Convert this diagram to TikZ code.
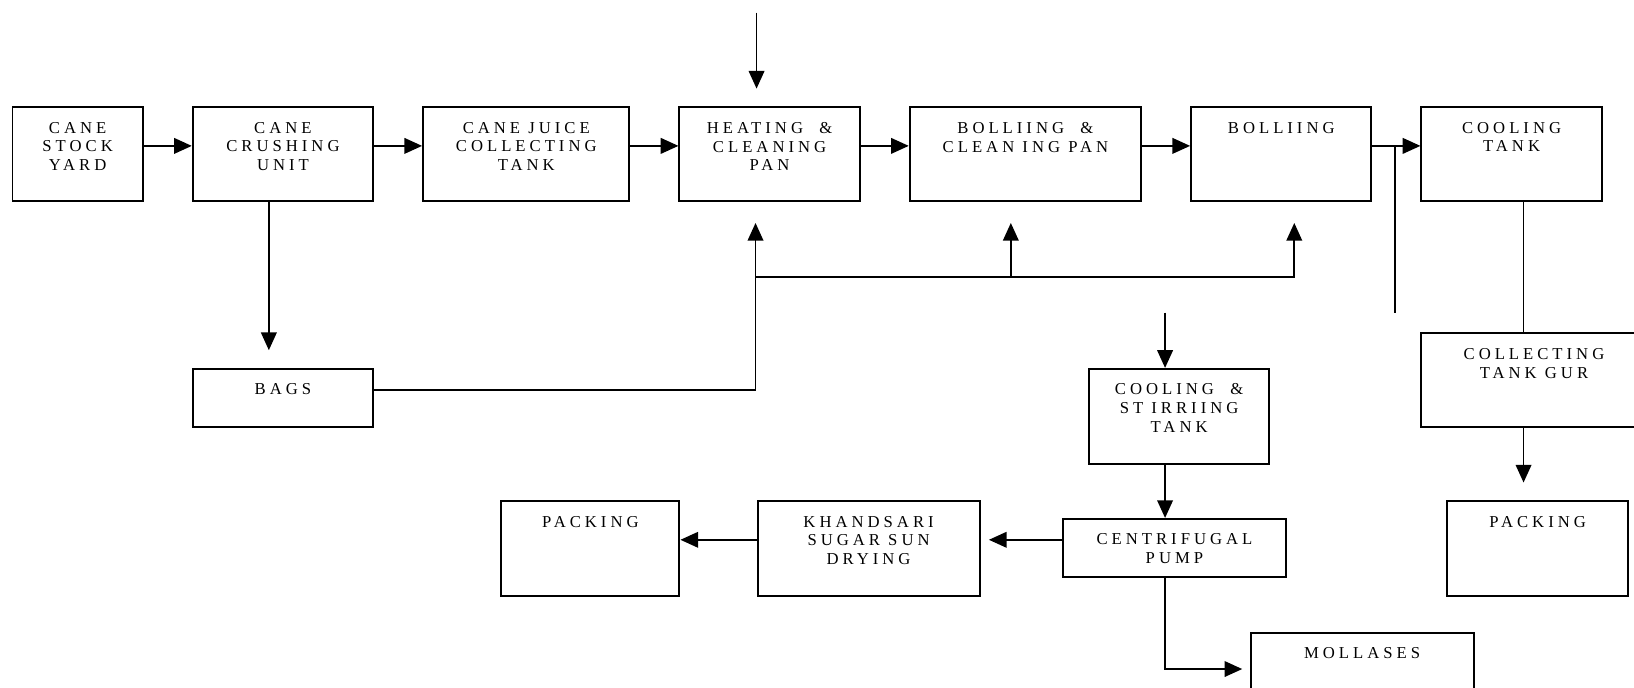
\documentclass[tikz,border=0pt]{standalone}
\usepackage{fontspec}
\setmainfont{Liberation Serif}[LetterSpace=24]
\usetikzlibrary{arrows.meta}
\tikzset{
  box/.style={draw, line width=1.9pt, inner sep=0pt, rectangle},
  lbl/.style={font=\fontsize{16}{18}\selectfont, align=center, inner sep=0pt, anchor=north},
  conn/.style={line width=1.7pt},
  arr/.style={conn, -{Triangle[length=17pt,width=15pt]}},
}
\newcommand\mybox[6]{%
  \pgfmathsetmacro\cxa{(#2+#4)/2}\pgfmathsetmacro\cya{(#3+#5)/2}%
  \pgfmathsetmacro\wa{#4-#2}\pgfmathsetmacro\ha{#5-#3}%
  \node[box, minimum width=\wa pt, minimum height=\ha pt] (#1) at (\cxa,\cya) {};
  \node[lbl] (#1-t) at ([yshift=-15pt]#1.north) {#6};
}
\begin{document}
\begin{tikzpicture}[x=1pt,y=-1pt]
\clip (0,0) rectangle (1568,660);
\mybox{yard}{12}{103}{137}{193}{CANE\\STOCK\\YARD}
\mybox{crush}{185}{103}{358}{193}{CANE\\CRUSHING\\UNIT}
\mybox{juice}{406}{103}{604}{193}{CANE JUICE\\COLLECTING\\TANK}
\mybox{heat}{652}{103}{825}{193}{HEATING \ \&\\CLEANING\\PAN}
\mybox{boilc}{873}{103}{1095}{193}{BOLLIING \ \&\\CLEAN ING PAN}
\mybox{boil}{1143}{103}{1316}{193}{BOLLIING}
\mybox{cool}{1364}{103}{1537}{193}{COOLING\\TANK}
\mybox{bags}{185}{354}{358}{410}{BAGS}
\mybox{stir}{1045}{354}{1218}{445}{COOLING \ \&\\ST IRRIING\\TANK}
\mybox{gur}{1364}{320}{1580}{410}{COLLECTING\\TANK GUR}
\mybox{packb}{1389}{481}{1562}{572}{PACKING}
\mybox{packa}{481}{481}{652}{572}{PACKING}
\mybox{khand}{727}{481}{940}{572}{KHANDSARI\\SUGAR SUN\\DRYING}
\mybox{cent}{1020}{498}{1234}{554}{CENTRIFUGAL\\PUMP}
\mybox{moll}{1200}{607}{1414}{700}{MOLLASES}

\coordinate (ra) at (0,140);
\draw[arr] (yard.east|-ra) -- (crush.west|-ra);
\draw[arr] (crush.east|-ra) -- (juice.west|-ra);
\draw[arr] (juice.east|-ra) -- (heat.west|-ra);
\draw[arr] (heat.east|-ra) -- (boilc.west|-ra);
\draw[arr] (boilc.east|-ra) -- (boil.west|-ra);
\draw[arr] (boil.east|-ra) -- (cool.west|-ra);
\coordinate (tv) at (1339,300);
\draw[conn] (tv|-ra) -- (tv);

\coordinate (topin) at (726,12);
\draw[arr] (topin) -- ([yshift=17pt]heat.north -| topin);

\coordinate (cx) at (258,0);
\draw[arr] (crush.south -| cx) -- ([yshift=17pt]bags.north -| cx);

\coordinate (hx) at (725,374);
\draw[arr] (bags.east|-hx) -- (hx) -- ([yshift=-20pt]heat.south -| hx);
\coordinate (jy) at (725,266);
\coordinate (b1) at (970,266);
\coordinate (b2) at (1242,266);
\draw[arr] (jy) -- (b2) -- ([yshift=-20pt]boil.south -| b2);
\draw[arr] (b1) -- ([yshift=-20pt]boilc.south -| b1);

\coordinate (gx) at (1462,0);
\draw[conn] (cool.south -| gx) -- (gur.north -| gx);
\draw[arr] (gur.south -| gx) -- ([yshift=17pt]packb.north -| gx);

\coordinate (sx) at (1118,300);
\draw[arr] (sx) -- (stir.north -| sx);
\draw[arr] (stir.south -| sx) -- (cent.north -| sx);

\coordinate (cy) at (0,518);
\draw[arr] (cent.west|-cy) -- ([xshift=8pt]khand.east|-cy);
\draw[arr] (khand.west|-cy) -- (packa.east|-cy);

\coordinate (my) at (1118,642);
\draw[arr] (cent.south -| sx) -- (my) -- ([xshift=-7pt]moll.west|-my);
\end{tikzpicture}
\end{document}
